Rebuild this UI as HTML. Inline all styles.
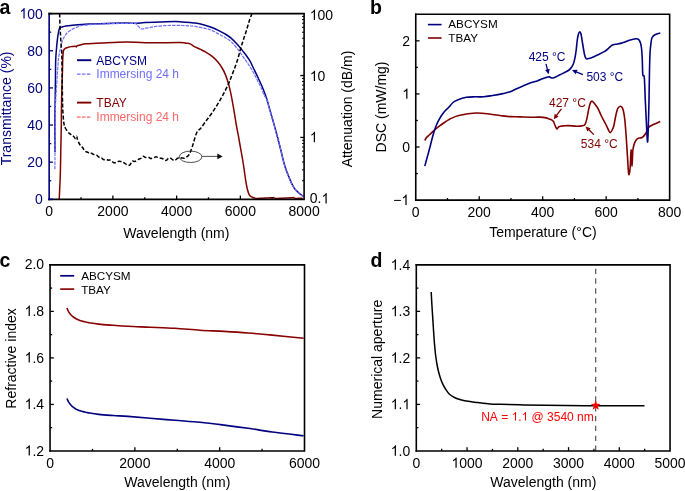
<!DOCTYPE html>
<html><head><meta charset="utf-8"><style>
html,body{margin:0;padding:0;background:#fff;}
svg{display:block;font-family:"Liberation Sans",sans-serif;will-change:transform;}
</style></head><body>
<svg width="685" height="491" viewBox="0 0 685 491">
<rect width="685" height="491" fill="#fff"/>
<g>
<path d="M59.20 199.50 C59.38 195.42 60.03 183.25 60.30 175.00 C60.57 166.75 60.63 158.33 60.80 150.00 C60.97 141.67 61.18 132.50 61.30 125.00 C61.42 117.50 61.38 111.67 61.50 105.00 C61.62 98.33 61.83 90.83 62.00 85.00 C62.17 79.17 62.38 74.17 62.50 70.00 C62.62 65.83 62.55 63.17 62.70 60.00 C62.85 56.83 63.02 52.92 63.40 51.00 C63.78 49.08 64.18 49.12 65.00 48.50 C65.82 47.88 67.13 47.62 68.30 47.30 C69.47 46.98 70.83 46.78 72.00 46.60 C73.17 46.42 74.58 46.13 75.30 46.20 C76.02 46.27 75.97 47.08 76.30 47.00 C76.63 46.92 76.68 46.05 77.30 45.70 C77.92 45.35 78.50 45.22 80.00 44.90 C81.50 44.58 82.65 44.13 86.30 43.80 C89.95 43.47 95.17 43.22 101.90 42.90 C108.63 42.58 119.40 41.92 126.70 41.90 C134.00 41.88 136.82 42.68 145.70 42.80 C154.58 42.92 173.28 42.53 180.00 42.60 C186.72 42.67 184.28 42.98 186.00 43.20 C187.72 43.42 188.97 43.38 190.30 43.90 C191.63 44.42 192.38 45.42 194.00 46.30 C195.62 47.18 197.98 48.20 200.00 49.20 C202.02 50.20 204.07 51.12 206.10 52.30 C208.13 53.48 210.17 54.62 212.20 56.30 C214.23 57.98 216.60 60.37 218.30 62.40 C220.00 64.43 221.22 66.47 222.40 68.50 C223.58 70.53 224.38 72.05 225.40 74.60 C226.42 77.15 227.65 80.92 228.50 83.80 C229.35 86.68 229.83 88.85 230.50 91.90 C231.17 94.95 231.82 98.37 232.50 102.10 C233.18 105.83 233.92 110.23 234.60 114.30 C235.28 118.37 236.00 123.08 236.60 126.50 C237.20 129.92 237.63 131.72 238.20 134.80 C238.77 137.88 239.27 140.88 240.00 145.00 C240.73 149.12 241.85 155.00 242.60 159.50 C243.35 164.00 244.00 168.58 244.50 172.00 C245.00 175.42 245.13 177.17 245.60 180.00 C246.07 182.83 246.68 186.53 247.30 189.00 C247.92 191.47 248.60 193.48 249.30 194.80 C250.00 196.12 250.72 196.42 251.50 196.90 C252.28 197.38 253.28 197.42 254.00 197.70 C254.72 197.97 255.20 198.42 255.80 198.55 C256.40 198.68 257.00 198.49 257.60 198.46 C258.20 198.43 258.80 198.40 259.40 198.37 C260.00 198.34 260.60 198.31 261.20 198.28 C261.80 198.25 262.40 198.22 263.00 198.19 C263.60 198.16 264.20 198.13 264.80 198.10 C265.40 198.07 266.00 198.04 266.60 198.01 C267.20 197.98 267.80 197.95 268.40 197.92 C269.00 197.89 269.60 197.86 270.20 197.83 C270.80 197.80 271.40 197.77 272.00 197.74 C272.60 197.71 273.20 197.52 273.80 197.65 C274.40 197.78 275.00 198.41 275.60 198.55 C276.20 198.68 276.80 198.49 277.40 198.46 C278.00 198.43 278.60 198.40 279.20 198.37 C279.80 198.34 280.40 198.31 281.00 198.28 C281.60 198.25 282.20 198.22 282.80 198.19 C283.40 198.16 284.00 198.13 284.60 198.10 C285.20 198.07 285.80 198.04 286.40 198.01 C287.00 197.98 287.60 197.95 288.20 197.92 C288.80 197.89 289.40 197.86 290.00 197.83 C290.60 197.80 291.20 197.77 291.80 197.74 C292.40 197.71 293.00 197.52 293.60 197.65 C294.20 197.78 294.80 198.41 295.40 198.55 C296.00 198.68 296.60 198.49 297.20 198.46 C297.80 198.43 298.40 198.40 299.00 198.37 C299.60 198.34 300.20 198.31 300.80 198.28 C301.40 198.25 302.30 198.20 302.60 198.19" fill="none" stroke="#800000" stroke-width="1.5" stroke-linejoin="round" stroke-linecap="butt" />
<path d="M55.00 152.00 C54.98 146.67 54.87 128.67 54.90 120.00 C54.93 111.33 55.10 107.50 55.20 100.00 C55.30 92.50 55.42 81.67 55.50 75.00 C55.58 68.33 55.53 64.42 55.70 60.00 C55.87 55.58 56.23 51.77 56.50 48.50 C56.77 45.23 56.97 43.12 57.30 40.40 C57.63 37.68 58.10 34.28 58.50 32.20 C58.90 30.12 59.15 28.75 59.70 27.90 C60.25 27.05 60.77 27.40 61.80 27.10 C62.83 26.80 64.13 26.40 65.90 26.10 C67.67 25.80 69.72 25.58 72.40 25.30 C75.08 25.02 79.07 24.62 82.00 24.40 C84.93 24.18 87.00 24.12 90.00 24.00 C93.00 23.88 94.17 23.85 100.00 23.70 C105.83 23.55 119.08 23.18 125.00 23.10 C130.92 23.02 132.17 23.28 135.50 23.20 C138.83 23.12 140.92 22.80 145.00 22.60 C149.08 22.40 155.00 22.17 160.00 22.00 C165.00 21.83 171.33 21.60 175.00 21.60 C178.67 21.60 179.50 21.83 182.00 22.00 C184.50 22.17 187.78 22.42 190.00 22.60 C192.22 22.78 192.93 22.70 195.30 23.10 C197.67 23.50 201.67 24.35 204.20 25.00 C206.73 25.65 208.07 26.07 210.50 27.00 C212.93 27.93 216.38 29.45 218.80 30.60 C221.22 31.75 222.95 32.65 225.00 33.90 C227.05 35.15 229.07 36.37 231.10 38.10 C233.13 39.83 235.17 42.05 237.20 44.30 C239.23 46.55 241.25 48.95 243.30 51.60 C245.35 54.25 247.70 57.22 249.50 60.20 C251.30 63.18 252.67 66.57 254.10 69.50 C255.53 72.43 256.75 74.92 258.10 77.80 C259.45 80.68 260.83 83.50 262.20 86.80 C263.57 90.10 265.08 93.98 266.30 97.60 C267.52 101.22 268.42 104.77 269.50 108.50 C270.58 112.23 271.72 116.17 272.80 120.00 C273.88 123.83 275.05 128.00 276.00 131.50 C276.95 135.00 277.67 137.78 278.50 141.00 C279.33 144.22 280.25 147.75 281.00 150.80 C281.75 153.85 282.18 156.22 283.00 159.30 C283.82 162.38 284.80 166.08 285.90 169.30 C287.00 172.52 288.58 176.12 289.60 178.60 C290.62 181.08 291.25 182.67 292.00 184.20 C292.75 185.73 293.35 186.70 294.10 187.80 C294.85 188.90 295.65 189.88 296.50 190.80 C297.35 191.72 298.37 192.60 299.20 193.30 C300.03 194.00 300.82 194.50 301.50 195.00 C302.18 195.50 303.00 196.08 303.30 196.30" fill="none" stroke="#000080" stroke-width="1.5" stroke-linejoin="round" stroke-linecap="butt" />
<path d="M54.90 169.30 C54.92 166.08 54.95 157.38 55.00 150.00 C55.05 142.62 55.12 132.50 55.20 125.00 C55.28 117.50 55.32 110.83 55.50 105.00 C55.68 99.17 56.00 95.00 56.30 90.00 C56.60 85.00 57.02 79.17 57.30 75.00 C57.58 70.83 57.80 67.78 58.00 65.00 C58.20 62.22 58.22 60.50 58.50 58.30 C58.78 56.10 59.28 53.83 59.70 51.80 C60.12 49.77 60.52 48.00 61.00 46.10 C61.48 44.20 62.00 42.03 62.60 40.40 C63.20 38.77 63.78 37.60 64.60 36.30 C65.42 35.00 66.48 33.62 67.50 32.60 C68.52 31.58 69.35 31.02 70.70 30.20 C72.05 29.38 74.10 28.38 75.60 27.70 C77.10 27.02 78.63 26.47 79.70 26.10 C80.77 25.73 80.28 25.75 82.00 25.50 C83.72 25.25 87.00 24.85 90.00 24.60 C93.00 24.35 94.17 24.20 100.00 24.00 C105.83 23.80 119.08 23.45 125.00 23.40 C130.92 23.35 133.33 23.27 135.50 23.70 C137.67 24.13 137.00 25.13 138.00 26.00 C139.00 26.87 140.17 28.53 141.50 28.90 C142.83 29.27 144.58 28.45 146.00 28.20 C147.42 27.95 148.35 27.70 150.00 27.40 C151.65 27.10 153.40 26.70 155.90 26.40 C158.40 26.10 161.82 25.77 165.00 25.60 C168.18 25.43 172.00 25.42 175.00 25.40 C178.00 25.38 180.57 25.42 183.00 25.50 C185.43 25.58 187.55 25.75 189.60 25.90 C191.65 26.05 192.87 26.02 195.30 26.40 C197.73 26.78 201.67 27.63 204.20 28.20 C206.73 28.77 208.07 28.82 210.50 29.80 C212.93 30.78 216.38 32.82 218.80 34.10 C221.22 35.38 222.95 36.22 225.00 37.50 C227.05 38.78 229.07 39.97 231.10 41.80 C233.13 43.63 235.17 45.95 237.20 48.50 C239.23 51.05 241.38 54.38 243.30 57.10 C245.22 59.82 247.07 62.32 248.70 64.80 C250.33 67.28 251.72 69.55 253.10 72.00 C254.48 74.45 255.68 76.92 257.00 79.50 C258.32 82.08 259.75 84.75 261.00 87.50 C262.25 90.25 263.62 94.22 264.50 96.00 C265.38 97.78 265.47 96.03 266.30 98.20 C267.13 100.37 268.42 105.30 269.50 109.00 C270.58 112.70 271.72 116.57 272.80 120.40 C273.88 124.23 275.05 128.50 276.00 132.00 C276.95 135.50 277.67 138.20 278.50 141.40 C279.33 144.60 280.25 148.15 281.00 151.20 C281.75 154.25 282.18 156.62 283.00 159.70 C283.82 162.78 284.80 166.48 285.90 169.70 C287.00 172.92 288.58 176.53 289.60 179.00 C290.62 181.47 291.25 182.98 292.00 184.50 C292.75 186.02 293.35 187.00 294.10 188.10 C294.85 189.20 295.65 190.18 296.50 191.10 C297.35 192.02 298.37 192.90 299.20 193.60 C300.03 194.30 300.82 194.82 301.50 195.30 C302.18 195.78 303.00 196.30 303.30 196.50" fill="none" stroke="#7070ff" stroke-width="1.2" stroke-linejoin="round" stroke-linecap="butt" stroke-dasharray="3.5 1" />
<path d="M59.60 13.60 C59.68 16.03 59.93 24.42 60.10 28.20 C60.27 31.98 60.43 33.60 60.60 36.30 C60.77 39.00 60.90 41.68 61.10 44.40 C61.30 47.12 61.67 50.00 61.80 52.60 C61.93 55.20 61.83 55.43 61.90 60.00 C61.97 64.57 62.10 73.33 62.20 80.00 C62.30 86.67 62.40 95.00 62.50 100.00 C62.60 105.00 62.63 106.67 62.80 110.00 C62.97 113.33 63.27 117.50 63.50 120.00 C63.73 122.50 63.90 123.67 64.20 125.00 C64.50 126.33 64.53 126.65 65.30 128.00 C66.07 129.35 67.95 132.09 68.80 133.10 C69.65 134.11 69.87 133.65 70.40 134.05 C70.93 134.45 71.44 135.09 72.00 135.50 C72.56 135.91 73.17 136.01 73.75 136.51 C74.33 137.01 75.03 138.55 75.50 138.50 C75.97 138.45 76.30 136.12 76.60 136.20 C76.90 136.28 76.85 137.75 77.30 139.00 C77.75 140.25 78.68 142.49 79.30 143.70 C79.92 144.91 80.46 145.57 81.03 146.24 C81.61 146.92 82.19 147.03 82.77 147.77 C83.34 148.51 83.92 150.04 84.50 150.70 C85.08 151.36 85.68 151.43 86.27 151.72 C86.86 152.01 87.44 152.13 88.03 152.45 C88.62 152.76 89.22 153.45 89.80 153.60 C90.38 153.75 90.96 153.22 91.53 153.35 C92.11 153.47 92.69 154.12 93.27 154.34 C93.84 154.57 94.43 154.58 95.00 154.70 C95.57 154.82 96.11 154.76 96.67 155.09 C97.22 155.41 97.78 156.22 98.33 156.67 C98.89 157.13 99.43 157.56 100.00 157.80 C100.57 158.04 101.17 157.80 101.75 158.10 C102.33 158.40 102.82 159.40 103.50 159.60 C104.18 159.80 105.07 159.23 105.85 159.33 C106.63 159.43 107.53 160.09 108.20 160.20 C108.88 160.31 109.33 159.84 109.90 160.00 C110.48 160.16 111.07 160.73 111.65 161.14 C112.23 161.56 112.82 162.25 113.40 162.50 C113.98 162.75 114.57 162.76 115.15 162.66 C115.73 162.56 116.27 162.14 116.90 161.90 C117.53 161.66 118.27 161.27 118.95 161.22 C119.63 161.17 120.37 161.48 121.00 161.60 C121.63 161.72 122.17 161.71 122.75 161.96 C123.33 162.21 123.72 162.58 124.50 163.10 C125.28 163.62 126.48 164.80 127.40 165.10 C128.32 165.40 129.22 165.55 130.00 164.90 C130.78 164.25 131.27 161.78 132.10 161.20 C132.93 160.62 134.02 161.67 135.00 161.40 C135.98 161.13 137.02 160.10 138.00 159.60 C138.98 159.10 140.03 158.95 140.90 158.40 C141.77 157.85 142.52 156.48 143.20 156.30 C143.88 156.12 144.36 157.08 145.00 157.30 C145.64 157.52 146.37 157.58 147.05 157.63 C147.73 157.68 148.47 157.46 149.10 157.60 C149.73 157.74 150.27 158.39 150.85 158.48 C151.43 158.56 152.02 158.25 152.60 158.10 C153.18 157.95 153.77 157.77 154.35 157.56 C154.93 157.34 155.42 156.76 156.10 156.80 C156.78 156.84 157.62 157.56 158.40 157.80 C159.18 158.04 159.97 158.06 160.75 158.26 C161.53 158.46 162.42 158.66 163.10 159.00 C163.78 159.34 164.27 160.07 164.85 160.27 C165.43 160.47 166.02 160.52 166.60 160.20 C167.18 159.88 167.77 158.77 168.35 158.37 C168.93 157.97 169.42 157.59 170.10 157.80 C170.78 158.01 171.67 159.17 172.45 159.60 C173.23 160.04 173.96 160.60 174.80 160.40 C175.64 160.20 176.70 158.87 177.50 158.40 C178.30 157.93 178.85 157.67 179.60 157.60 C180.35 157.53 181.18 157.90 182.00 158.00 C182.82 158.10 183.75 158.37 184.50 158.20 C185.25 158.03 185.85 157.43 186.50 157.00 C187.15 156.57 187.78 156.35 188.40 155.60 C189.02 154.85 189.72 153.52 190.20 152.50 C190.68 151.48 190.92 150.58 191.30 149.50 C191.68 148.42 192.12 147.17 192.50 146.00 C192.88 144.83 193.18 143.92 193.60 142.50 C194.02 141.08 194.47 139.17 195.00 137.50 C195.53 135.83 196.17 133.75 196.80 132.50 C197.43 131.25 198.10 130.75 198.80 130.00 C199.50 129.25 200.05 129.17 201.00 128.00 C201.95 126.83 203.32 124.62 204.50 123.00 C205.68 121.38 206.32 120.77 208.10 118.30 C209.88 115.83 212.82 111.92 215.20 108.20 C217.58 104.48 220.18 100.07 222.40 96.00 C224.62 91.93 226.90 87.30 228.50 83.80 C230.10 80.30 230.82 78.05 232.00 75.00 C233.18 71.95 234.52 68.58 235.60 65.50 C236.68 62.42 237.65 59.38 238.50 56.50 C239.35 53.62 240.00 50.62 240.70 48.20 C241.40 45.78 242.08 43.95 242.70 42.00 C243.32 40.05 243.80 38.33 244.40 36.50 C245.00 34.67 245.72 32.83 246.30 31.00 C246.88 29.17 247.33 27.42 247.90 25.50 C248.47 23.58 249.03 21.47 249.70 19.50 C250.37 17.53 251.53 14.67 251.90 13.70" fill="none" stroke="#000" stroke-width="1.5" stroke-linejoin="round" stroke-linecap="butt" stroke-dasharray="4 2" />
<ellipse cx="190.6" cy="156.8" rx="11.3" ry="5.7" fill="none" stroke="#222" stroke-width="0.8"/>
<line x1="201.90" y1="156.40" x2="218.00" y2="156.40" stroke="#222" stroke-width="0.8" />
<path d="M217.3 153.6 L222.7 156.4 L217.3 159.2 Z" fill="#111"/>
<path d="M49.15 13.60 H304.10 V199.35 H49.15" fill="none" stroke="#000" stroke-width="1.6" stroke-linejoin="miter" stroke-linecap="square"/>
<line x1="49.15" y1="13.60" x2="49.15" y2="200.15" stroke="#000080" stroke-width="1.6" />
<line x1="48.35" y1="199.35" x2="52.95" y2="199.35" stroke="#000080" stroke-width="1.6" />
<line x1="48.35" y1="13.60" x2="52.15" y2="13.60" stroke="#000" stroke-width="1.6" />
<text transform="translate(42.80 204.25) scale(1 1.035)" font-size="14.0" text-anchor="end" fill="#000080" font-weight="normal" >0</text>
<line x1="49.15" y1="180.78" x2="51.25" y2="180.78" stroke="#000080" stroke-width="1.3" />
<line x1="49.15" y1="162.20" x2="52.95" y2="162.20" stroke="#000080" stroke-width="1.3" />
<text transform="translate(42.80 167.10) scale(1 1.035)" font-size="14.0" text-anchor="end" fill="#000080" font-weight="normal" >20</text>
<line x1="49.15" y1="143.62" x2="51.25" y2="143.62" stroke="#000080" stroke-width="1.3" />
<line x1="49.15" y1="125.05" x2="52.95" y2="125.05" stroke="#000080" stroke-width="1.3" />
<text transform="translate(42.80 129.95) scale(1 1.035)" font-size="14.0" text-anchor="end" fill="#000080" font-weight="normal" >40</text>
<line x1="49.15" y1="106.47" x2="51.25" y2="106.47" stroke="#000080" stroke-width="1.3" />
<line x1="49.15" y1="87.90" x2="52.95" y2="87.90" stroke="#000080" stroke-width="1.3" />
<text transform="translate(42.80 92.80) scale(1 1.035)" font-size="14.0" text-anchor="end" fill="#000080" font-weight="normal" >60</text>
<line x1="49.15" y1="69.32" x2="51.25" y2="69.32" stroke="#000080" stroke-width="1.3" />
<line x1="49.15" y1="50.75" x2="52.95" y2="50.75" stroke="#000080" stroke-width="1.3" />
<text transform="translate(42.80 55.65) scale(1 1.035)" font-size="14.0" text-anchor="end" fill="#000080" font-weight="normal" >80</text>
<line x1="49.15" y1="32.17" x2="51.25" y2="32.17" stroke="#000080" stroke-width="1.3" />
<path d="M24.66 18.50 L23.43 18.50 L23.43 10.38 C23.13 10.67 22.74 10.97 22.26 11.26 C21.79 11.55 21.36 11.77 20.97 11.92 L20.97 10.69 C21.65 10.36 22.24 9.95 22.76 9.48 C23.27 9.01 23.63 8.55 23.84 8.09 L24.66 8.09 Z" fill="#000080"/>
<text transform="translate(42.80 18.50) scale(1 1.035)" font-size="14.0" text-anchor="end" fill="#000080" font-weight="normal"  style="font-kerning:none">&#8199;00</text>
<text transform="translate(49.15 215.90) scale(1 1.035)" font-size="14.0" text-anchor="middle" fill="#000" font-weight="normal" >0</text>
<line x1="81.02" y1="199.35" x2="81.02" y2="197.25" stroke="#000" stroke-width="1.3" />
<line x1="112.89" y1="199.35" x2="112.89" y2="195.55" stroke="#000" stroke-width="1.3" />
<text transform="translate(112.89 215.90) scale(1 1.035)" font-size="14.0" text-anchor="middle" fill="#000" font-weight="normal" >2000</text>
<line x1="144.76" y1="199.35" x2="144.76" y2="197.25" stroke="#000" stroke-width="1.3" />
<line x1="176.62" y1="199.35" x2="176.62" y2="195.55" stroke="#000" stroke-width="1.3" />
<text transform="translate(176.62 215.90) scale(1 1.035)" font-size="14.0" text-anchor="middle" fill="#000" font-weight="normal" >4000</text>
<line x1="208.49" y1="199.35" x2="208.49" y2="197.25" stroke="#000" stroke-width="1.3" />
<line x1="240.36" y1="199.35" x2="240.36" y2="195.55" stroke="#000" stroke-width="1.3" />
<text transform="translate(240.36 215.90) scale(1 1.035)" font-size="14.0" text-anchor="middle" fill="#000" font-weight="normal" >6000</text>
<line x1="272.23" y1="199.35" x2="272.23" y2="197.25" stroke="#000" stroke-width="1.3" />
<text transform="translate(304.10 215.90) scale(1 1.035)" font-size="14.0" text-anchor="middle" fill="#000" font-weight="normal" >8000</text>
<line x1="304.10" y1="180.71" x2="302.00" y2="180.71" stroke="#000" stroke-width="1.0" />
<line x1="304.10" y1="169.81" x2="302.00" y2="169.81" stroke="#000" stroke-width="1.0" />
<line x1="304.10" y1="162.07" x2="302.00" y2="162.07" stroke="#000" stroke-width="1.0" />
<line x1="304.10" y1="156.07" x2="302.00" y2="156.07" stroke="#000" stroke-width="1.0" />
<line x1="304.10" y1="151.17" x2="302.00" y2="151.17" stroke="#000" stroke-width="1.0" />
<line x1="304.10" y1="147.02" x2="302.00" y2="147.02" stroke="#000" stroke-width="1.0" />
<line x1="304.10" y1="143.43" x2="302.00" y2="143.43" stroke="#000" stroke-width="1.0" />
<line x1="304.10" y1="140.27" x2="302.00" y2="140.27" stroke="#000" stroke-width="1.0" />
<line x1="304.10" y1="137.43" x2="300.30" y2="137.43" stroke="#000" stroke-width="1.3" />
<line x1="304.10" y1="118.79" x2="302.00" y2="118.79" stroke="#000" stroke-width="1.0" />
<line x1="304.10" y1="107.89" x2="302.00" y2="107.89" stroke="#000" stroke-width="1.0" />
<line x1="304.10" y1="100.16" x2="302.00" y2="100.16" stroke="#000" stroke-width="1.0" />
<line x1="304.10" y1="94.16" x2="302.00" y2="94.16" stroke="#000" stroke-width="1.0" />
<line x1="304.10" y1="89.25" x2="302.00" y2="89.25" stroke="#000" stroke-width="1.0" />
<line x1="304.10" y1="85.11" x2="302.00" y2="85.11" stroke="#000" stroke-width="1.0" />
<line x1="304.10" y1="81.52" x2="302.00" y2="81.52" stroke="#000" stroke-width="1.0" />
<line x1="304.10" y1="78.35" x2="302.00" y2="78.35" stroke="#000" stroke-width="1.0" />
<line x1="304.10" y1="75.52" x2="300.30" y2="75.52" stroke="#000" stroke-width="1.3" />
<line x1="304.10" y1="56.88" x2="302.00" y2="56.88" stroke="#000" stroke-width="1.0" />
<line x1="304.10" y1="45.97" x2="302.00" y2="45.97" stroke="#000" stroke-width="1.0" />
<line x1="304.10" y1="38.24" x2="302.00" y2="38.24" stroke="#000" stroke-width="1.0" />
<line x1="304.10" y1="32.24" x2="302.00" y2="32.24" stroke="#000" stroke-width="1.0" />
<line x1="304.10" y1="27.34" x2="302.00" y2="27.34" stroke="#000" stroke-width="1.0" />
<line x1="304.10" y1="23.19" x2="302.00" y2="23.19" stroke="#000" stroke-width="1.0" />
<line x1="304.10" y1="19.60" x2="302.00" y2="19.60" stroke="#000" stroke-width="1.0" />
<line x1="304.10" y1="16.43" x2="302.00" y2="16.43" stroke="#000" stroke-width="1.0" />
<path d="M326.69 203.44 L325.46 203.44 L325.46 195.32 C325.17 195.61 324.78 195.91 324.30 196.20 C323.82 196.49 323.39 196.71 323.00 196.86 L323.00 195.63 C323.68 195.30 324.28 194.89 324.79 194.42 C325.30 193.95 325.67 193.49 325.88 193.03 L326.69 193.03 Z" fill="#000"/>
<text transform="translate(309.80 203.44) scale(1 1.035)" font-size="14.0" text-anchor="start" fill="#000" font-weight="normal"  style="font-kerning:none">0.&#8199;</text>
<path d="M315.02 142.19 L313.79 142.19 L313.79 134.07 C313.49 134.36 313.10 134.66 312.62 134.95 C312.14 135.24 311.71 135.46 311.32 135.61 L311.32 134.38 C312.01 134.05 312.60 133.64 313.12 133.17 C313.63 132.70 313.99 132.24 314.20 131.78 L315.02 131.78 Z" fill="#000"/>
<text transform="translate(309.80 142.19) scale(1 1.035)" font-size="14.0" text-anchor="start" fill="#000" font-weight="normal"  style="font-kerning:none">&#8199;</text>
<path d="M315.02 81.04 L313.79 81.04 L313.79 72.92 C313.49 73.21 313.10 73.51 312.62 73.80 C312.14 74.09 311.71 74.31 311.32 74.46 L311.32 73.23 C312.01 72.90 312.60 72.49 313.12 72.02 C313.63 71.55 313.99 71.09 314.20 70.63 L315.02 70.63 Z" fill="#000"/>
<text transform="translate(309.80 81.04) scale(1 1.035)" font-size="14.0" text-anchor="start" fill="#000" font-weight="normal"  style="font-kerning:none">&#8199;0</text>
<path d="M315.02 19.99 L313.79 19.99 L313.79 11.87 C313.49 12.16 313.10 12.46 312.62 12.75 C312.14 13.04 311.71 13.26 311.32 13.41 L311.32 12.18 C312.01 11.85 312.60 11.44 313.12 10.97 C313.63 10.50 313.99 10.04 314.20 9.58 L315.02 9.58 Z" fill="#000"/>
<text transform="translate(309.80 19.99) scale(1 1.035)" font-size="14.0" text-anchor="start" fill="#000" font-weight="normal"  style="font-kerning:none">&#8199;00</text>
<text transform="translate(11.30 108.40) rotate(-90)" font-size="14" text-anchor="middle" fill="#000080">Transmittance (%)</text>
<text transform="translate(351.80 109.00) rotate(-90)" font-size="14" text-anchor="middle" fill="#000">Attenuation (dB/m)</text>
<text x="176.40" y="238.30" font-size="14" text-anchor="middle" fill="#000" font-weight="normal" >Wavelength (nm)</text>
<line x1="77.00" y1="60.20" x2="91.30" y2="60.20" stroke="#000080" stroke-width="1.9" />
<text x="96.30" y="64.50" font-size="12" text-anchor="start" fill="#000080" font-weight="normal" >ABCYSM</text>
<line x1="77.00" y1="74.10" x2="91.30" y2="74.10" stroke="#7070ff" stroke-width="1.2" stroke-dasharray="3.6 1.3"/>
<text x="96.30" y="78.30" font-size="12" text-anchor="start" fill="#7070ff" font-weight="normal" >Immersing 24 h</text>
<line x1="77.00" y1="102.60" x2="91.30" y2="102.60" stroke="#800000" stroke-width="1.9" />
<text x="96.30" y="106.80" font-size="12" text-anchor="start" fill="#800000" font-weight="normal" >TBAY</text>
<line x1="77.00" y1="117.10" x2="91.30" y2="117.10" stroke="#ff6868" stroke-width="1.2" stroke-dasharray="3.6 1.3"/>
<text x="96.30" y="120.90" font-size="12" text-anchor="start" fill="#ff6868" font-weight="normal" >Immersing 24 h</text>
</g>
<g>
<path d="M424.80 140.50 C425.08 140.02 425.67 138.60 426.50 137.60 C427.33 136.60 428.45 135.80 429.80 134.50 C431.15 133.20 433.07 131.17 434.60 129.80 C436.13 128.43 437.37 127.52 439.00 126.30 C440.63 125.08 442.57 123.72 444.40 122.50 C446.23 121.28 447.58 120.17 450.00 119.00 C452.42 117.83 454.57 116.50 458.90 115.50 C463.23 114.50 470.70 113.22 476.00 113.00 C481.30 112.78 486.22 113.72 490.70 114.20 C495.18 114.68 499.68 115.50 502.90 115.90 C506.12 116.30 507.15 116.43 510.00 116.60 C512.85 116.77 515.93 116.78 520.00 116.90 C524.07 117.02 531.07 117.27 534.40 117.30 C537.73 117.33 538.05 117.00 540.00 117.10 C541.95 117.20 544.58 117.58 546.10 117.90 C547.62 118.22 548.18 118.67 549.10 119.00 C550.02 119.33 550.87 119.48 551.60 119.90 C552.33 120.32 553.08 120.98 553.50 121.50 C553.92 122.02 553.70 122.03 554.10 123.00 C554.50 123.97 555.40 126.32 555.90 127.30 C556.40 128.28 556.60 129.00 557.10 128.90 C557.60 128.80 557.68 127.22 558.90 126.70 C560.12 126.18 562.77 125.98 564.40 125.80 C566.03 125.62 566.65 125.53 568.70 125.60 C570.75 125.67 574.35 126.18 576.70 126.20 C579.05 126.22 581.38 126.03 582.80 125.70 C584.22 125.37 584.50 125.47 585.20 124.20 C585.90 122.93 586.38 120.75 587.00 118.10 C587.62 115.45 588.28 110.95 588.90 108.30 C589.52 105.65 590.13 103.38 590.70 102.20 C591.27 101.02 591.68 101.00 592.30 101.20 C592.92 101.40 593.45 102.18 594.40 103.40 C595.35 104.62 596.83 106.40 598.00 108.50 C599.17 110.60 600.17 113.50 601.40 116.00 C602.63 118.50 604.30 121.33 605.40 123.50 C606.50 125.67 607.18 127.48 608.00 129.00 C608.82 130.52 609.52 132.62 610.30 132.60 C611.08 132.58 612.08 130.17 612.70 128.90 C613.32 127.63 613.53 126.98 614.00 125.00 C614.47 123.02 614.98 119.47 615.50 117.00 C616.02 114.53 616.60 111.78 617.10 110.20 C617.60 108.62 617.93 108.17 618.50 107.50 C619.07 106.83 619.78 106.00 620.50 106.20 C621.22 106.40 622.10 106.60 622.80 108.70 C623.50 110.80 624.15 114.37 624.70 118.80 C625.25 123.23 625.65 129.20 626.10 135.30 C626.55 141.40 626.97 148.95 627.40 155.40 C627.83 161.85 628.25 171.85 628.70 174.00 C629.15 176.15 629.70 172.30 630.10 168.30 C630.50 164.30 630.78 150.32 631.10 150.00 C631.42 149.68 631.70 166.40 632.00 166.40 C632.30 166.40 632.45 153.97 632.90 150.00 C633.35 146.03 633.93 144.50 634.70 142.60 C635.47 140.70 636.27 139.45 637.50 138.60 C638.73 137.75 640.73 138.35 642.10 137.50 C643.47 136.65 644.63 135.17 645.70 133.50 C646.77 131.83 647.12 129.03 648.50 127.50 C649.88 125.97 652.05 125.32 654.00 124.30 C655.95 123.28 659.17 121.88 660.20 121.40" fill="none" stroke="#800000" stroke-width="1.6" stroke-linejoin="round" stroke-linecap="butt" />
<path d="M424.80 166.10 C425.17 164.75 426.20 160.93 427.00 158.00 C427.80 155.07 428.77 151.67 429.60 148.50 C430.43 145.33 431.17 142.07 432.00 139.00 C432.83 135.93 433.77 132.63 434.60 130.10 C435.43 127.57 436.22 125.60 437.00 123.80 C437.78 122.00 438.47 120.80 439.30 119.30 C440.13 117.80 440.95 116.30 442.00 114.80 C443.05 113.30 444.47 111.55 445.60 110.30 C446.73 109.05 447.57 108.60 448.80 107.30 C450.03 106.00 451.55 103.73 453.00 102.50 C454.45 101.27 455.28 100.77 457.50 99.90 C459.72 99.03 463.38 97.82 466.30 97.30 C469.22 96.78 472.08 96.88 475.00 96.80 C477.92 96.72 480.88 97.02 483.80 96.80 C486.72 96.58 489.32 96.03 492.50 95.50 C495.68 94.97 500.10 94.17 502.90 93.60 C505.70 93.03 507.12 92.87 509.30 92.10 C511.48 91.33 513.63 90.07 516.00 89.00 C518.37 87.93 521.17 86.68 523.50 85.70 C525.83 84.72 527.62 83.93 530.00 83.10 C532.38 82.27 535.72 81.42 537.80 80.70 C539.88 79.98 540.85 79.40 542.50 78.80 C544.15 78.20 546.53 77.42 547.70 77.10 C548.87 76.78 548.87 76.77 549.50 76.90 C550.13 77.03 550.77 77.77 551.50 77.90 C552.23 78.03 552.48 78.22 553.90 77.70 C555.32 77.18 557.82 75.87 560.00 74.80 C562.18 73.73 565.25 72.33 567.00 71.30 C568.75 70.27 569.47 69.77 570.50 68.60 C571.53 67.43 572.47 66.05 573.20 64.30 C573.93 62.55 574.40 60.48 574.90 58.10 C575.40 55.72 575.82 52.93 576.20 50.00 C576.58 47.07 576.82 43.17 577.20 40.50 C577.58 37.83 578.07 35.45 578.50 34.00 C578.93 32.55 579.38 31.80 579.80 31.80 C580.22 31.80 580.60 32.43 581.00 34.00 C581.40 35.57 581.78 38.70 582.20 41.20 C582.62 43.70 583.10 46.70 583.50 49.00 C583.90 51.30 584.15 53.37 584.60 55.00 C585.05 56.63 585.63 58.20 586.20 58.80 C586.77 59.40 587.12 58.78 588.00 58.60 C588.88 58.42 589.82 58.35 591.50 57.70 C593.18 57.05 595.90 55.75 598.10 54.70 C600.30 53.65 602.93 52.50 604.70 51.40 C606.47 50.30 607.48 49.13 608.70 48.10 C609.92 47.07 610.90 45.83 612.00 45.20 C613.10 44.57 613.87 44.60 615.30 44.30 C616.73 44.00 618.98 43.80 620.60 43.40 C622.22 43.00 623.55 42.43 625.00 41.90 C626.45 41.37 627.50 40.73 629.30 40.20 C631.10 39.67 634.27 38.83 635.80 38.70 C637.33 38.57 637.72 38.68 638.50 39.40 C639.28 40.12 639.98 41.40 640.50 43.00 C641.02 44.60 641.30 46.17 641.60 49.00 C641.90 51.83 642.10 55.75 642.30 60.00 C642.50 64.25 642.47 71.58 642.80 74.50 C643.13 77.42 643.88 73.25 644.30 77.50 C644.72 81.75 644.93 92.08 645.30 100.00 C645.67 107.92 646.13 118.00 646.50 125.00 C646.87 132.00 647.20 141.50 647.50 142.00 C647.80 142.50 648.05 135.00 648.30 128.00 C648.55 121.00 648.80 109.67 649.00 100.00 C649.20 90.33 649.32 78.00 649.50 70.00 C649.68 62.00 649.85 56.50 650.10 52.00 C650.35 47.50 650.67 45.42 651.00 43.00 C651.33 40.58 651.37 38.92 652.10 37.50 C652.83 36.08 654.03 35.25 655.40 34.50 C656.77 33.75 659.48 33.25 660.30 33.00" fill="none" stroke="#000080" stroke-width="1.6" stroke-linejoin="round" stroke-linecap="butt" />
<path d="M415.75 14.30 H669.65 V200.10 H415.75" fill="none" stroke="#000" stroke-width="1.6" stroke-linejoin="miter" stroke-linecap="square"/>
<line x1="415.75" y1="13.50" x2="415.75" y2="200.90" stroke="#000" stroke-width="1.6" />
<path d="M406.63 205.00 L405.40 205.00 L405.40 196.88 C405.11 197.17 404.72 197.47 404.24 197.76 C403.76 198.05 403.33 198.27 402.94 198.42 L402.94 197.19 C403.62 196.86 404.22 196.45 404.73 195.98 C405.24 195.51 405.60 195.05 405.82 194.59 L406.63 194.59 Z" fill="#000"/>
<text transform="translate(409.20 205.00) scale(1 1.035)" font-size="14.0" text-anchor="end" fill="#000" font-weight="normal"  style="font-kerning:none">&#8722;&#8199;</text>
<line x1="415.75" y1="173.56" x2="417.85" y2="173.56" stroke="#000" stroke-width="1.3" />
<line x1="415.75" y1="147.01" x2="419.55" y2="147.01" stroke="#000" stroke-width="1.3" />
<text transform="translate(410.00 151.91) scale(1 1.035)" font-size="14.0" text-anchor="end" fill="#000" font-weight="normal" >0</text>
<line x1="415.75" y1="120.47" x2="417.85" y2="120.47" stroke="#000" stroke-width="1.3" />
<line x1="415.75" y1="93.93" x2="419.55" y2="93.93" stroke="#000" stroke-width="1.3" />
<path d="M407.43 98.83 L406.20 98.83 L406.20 90.71 C405.91 91.00 405.52 91.30 405.04 91.59 C404.56 91.88 404.13 92.10 403.74 92.25 L403.74 91.02 C404.42 90.69 405.02 90.28 405.53 89.81 C406.04 89.33 406.40 88.87 406.62 88.41 L407.43 88.41 Z" fill="#000"/>
<text transform="translate(410.00 98.83) scale(1 1.035)" font-size="14.0" text-anchor="end" fill="#000" font-weight="normal"  style="font-kerning:none">&#8199;</text>
<line x1="415.75" y1="67.39" x2="417.85" y2="67.39" stroke="#000" stroke-width="1.3" />
<line x1="415.75" y1="40.84" x2="419.55" y2="40.84" stroke="#000" stroke-width="1.3" />
<text transform="translate(410.00 45.74) scale(1 1.035)" font-size="14.0" text-anchor="end" fill="#000" font-weight="normal" >2</text>
<text transform="translate(415.75 216.50) scale(1 1.035)" font-size="14.0" text-anchor="middle" fill="#000" font-weight="normal" >0</text>
<line x1="447.49" y1="200.10" x2="447.49" y2="198.00" stroke="#000" stroke-width="1.3" />
<line x1="479.23" y1="200.10" x2="479.23" y2="196.30" stroke="#000" stroke-width="1.3" />
<text transform="translate(479.23 216.50) scale(1 1.035)" font-size="14.0" text-anchor="middle" fill="#000" font-weight="normal" >200</text>
<line x1="510.96" y1="200.10" x2="510.96" y2="198.00" stroke="#000" stroke-width="1.3" />
<line x1="542.70" y1="200.10" x2="542.70" y2="196.30" stroke="#000" stroke-width="1.3" />
<text transform="translate(542.70 216.50) scale(1 1.035)" font-size="14.0" text-anchor="middle" fill="#000" font-weight="normal" >400</text>
<line x1="574.44" y1="200.10" x2="574.44" y2="198.00" stroke="#000" stroke-width="1.3" />
<line x1="606.17" y1="200.10" x2="606.17" y2="196.30" stroke="#000" stroke-width="1.3" />
<text transform="translate(606.17 216.50) scale(1 1.035)" font-size="14.0" text-anchor="middle" fill="#000" font-weight="normal" >600</text>
<line x1="637.91" y1="200.10" x2="637.91" y2="198.00" stroke="#000" stroke-width="1.3" />
<text transform="translate(669.65 216.50) scale(1 1.035)" font-size="14.0" text-anchor="middle" fill="#000" font-weight="normal" >800</text>
<text transform="translate(385.80 106.95) rotate(-90)" font-size="14" text-anchor="middle" fill="#000">DSC (mW/mg)</text>
<text x="542.90" y="236.60" font-size="14" text-anchor="middle" fill="#000" font-weight="normal" >Temperature (&#176;C)</text>
<line x1="427.90" y1="24.60" x2="441.60" y2="24.60" stroke="#000080" stroke-width="1.6" />
<text x="448.30" y="28.20" font-size="11.7" text-anchor="start" fill="#000" font-weight="normal" >ABCYSM</text>
<line x1="427.90" y1="38.00" x2="441.60" y2="38.00" stroke="#800000" stroke-width="1.6" />
<text x="448.30" y="42.20" font-size="11.7" text-anchor="start" fill="#000" font-weight="normal" >TBAY</text>
<text x="528.70" y="61.00" font-size="12" text-anchor="start" fill="#000080" font-weight="normal" >425 &#176;C</text>
<text x="586.40" y="80.50" font-size="12" text-anchor="start" fill="#000080" font-weight="normal" >503 &#176;C</text>
<text x="549.00" y="107.10" font-size="12" text-anchor="start" fill="#800000" font-weight="normal" >427 &#176;C</text>
<text x="580.80" y="147.50" font-size="12" text-anchor="start" fill="#800000" font-weight="normal" >534 &#176;C</text>
<line x1="546.00" y1="63.80" x2="547.52" y2="69.93" stroke="#000080" stroke-width="1.3" />
<path d="M548.60 74.30 L545.07 70.02 L549.73 68.87 Z" fill="#000080"/>
<line x1="582.90" y1="74.60" x2="576.16" y2="71.82" stroke="#000080" stroke-width="1.3" />
<path d="M572.00 70.10 L577.54 69.79 L575.71 74.23 Z" fill="#000080"/>
<line x1="561.40" y1="108.90" x2="556.38" y2="115.68" stroke="#800000" stroke-width="1.3" />
<path d="M553.70 119.30 L554.75 113.85 L558.60 116.71 Z" fill="#800000"/>
<line x1="593.80" y1="134.60" x2="588.70" y2="129.56" stroke="#800000" stroke-width="1.3" />
<path d="M585.50 126.40 L590.74 128.21 L587.37 131.62 Z" fill="#800000"/>
</g>
<g>
<path d="M67.00 308.00 C67.20 308.50 67.77 310.15 68.20 311.00 C68.63 311.85 69.05 312.35 69.60 313.10 C70.15 313.85 70.77 314.77 71.50 315.50 C72.23 316.23 73.17 316.92 74.00 317.50 C74.83 318.08 75.53 318.52 76.50 319.00 C77.47 319.48 78.55 319.97 79.80 320.40 C81.05 320.83 82.53 321.23 84.00 321.60 C85.47 321.97 86.13 322.18 88.60 322.60 C91.07 323.02 94.67 323.65 98.80 324.10 C102.93 324.55 108.53 324.93 113.40 325.30 C118.27 325.67 121.90 325.98 128.00 326.30 C134.10 326.62 142.17 326.87 150.00 327.20 C157.83 327.53 166.67 327.80 175.00 328.30 C183.33 328.80 191.82 329.68 200.00 330.20 C208.18 330.72 216.07 330.93 224.10 331.40 C232.13 331.87 240.17 332.38 248.20 333.00 C256.23 333.62 263.07 334.22 272.30 335.10 C281.53 335.98 298.38 337.77 303.60 338.30" fill="none" stroke="#880000" stroke-width="1.6" stroke-linejoin="round" stroke-linecap="butt" />
<path d="M67.00 398.50 C67.20 398.97 67.77 400.48 68.20 401.30 C68.63 402.12 69.05 402.65 69.60 403.40 C70.15 404.15 70.77 405.07 71.50 405.80 C72.23 406.53 73.17 407.20 74.00 407.80 C74.83 408.40 75.53 408.92 76.50 409.40 C77.47 409.88 78.55 410.28 79.80 410.70 C81.05 411.12 82.53 411.53 84.00 411.90 C85.47 412.27 86.13 412.48 88.60 412.90 C91.07 413.32 94.67 413.97 98.80 414.40 C102.93 414.83 108.53 415.17 113.40 415.50 C118.27 415.83 121.90 415.95 128.00 416.40 C134.10 416.85 142.17 417.55 150.00 418.20 C157.83 418.85 166.67 419.62 175.00 420.30 C183.33 420.98 191.82 421.50 200.00 422.30 C208.18 423.10 216.07 424.10 224.10 425.10 C232.13 426.10 240.17 427.15 248.20 428.30 C256.23 429.45 263.07 430.75 272.30 432.00 C281.53 433.25 298.38 435.17 303.60 435.80" fill="none" stroke="#000080" stroke-width="1.6" stroke-linejoin="round" stroke-linecap="butt" />
<path d="M50.05 264.85 H304.50 V450.95 H50.05" fill="none" stroke="#000" stroke-width="1.6" stroke-linejoin="miter" stroke-linecap="square"/>
<line x1="50.05" y1="264.05" x2="50.05" y2="451.75" stroke="#000" stroke-width="1.6" />
<path d="M29.85 455.55 L28.62 455.55 L28.62 447.43 C28.33 447.72 27.94 448.02 27.46 448.31 C26.98 448.60 26.55 448.82 26.16 448.97 L26.16 447.74 C26.85 447.41 27.44 447.00 27.95 446.53 C28.47 446.06 28.83 445.60 29.04 445.14 L29.85 445.14 Z" fill="#000"/>
<text transform="translate(44.10 455.55) scale(1 1.035)" font-size="14.0" text-anchor="end" fill="#000" font-weight="normal"  style="font-kerning:none">&#8199;.2</text>
<line x1="50.05" y1="427.69" x2="52.15" y2="427.69" stroke="#000" stroke-width="1.3" />
<line x1="50.05" y1="404.43" x2="53.85" y2="404.43" stroke="#000" stroke-width="1.3" />
<path d="M29.85 409.03 L28.62 409.03 L28.62 400.91 C28.33 401.20 27.94 401.50 27.46 401.79 C26.98 402.08 26.55 402.30 26.16 402.45 L26.16 401.21 C26.85 400.88 27.44 400.48 27.95 400.00 C28.47 399.53 28.83 399.07 29.04 398.61 L29.85 398.61 Z" fill="#000"/>
<text transform="translate(44.10 409.03) scale(1 1.035)" font-size="14.0" text-anchor="end" fill="#000" font-weight="normal"  style="font-kerning:none">&#8199;.4</text>
<line x1="50.05" y1="381.16" x2="52.15" y2="381.16" stroke="#000" stroke-width="1.3" />
<line x1="50.05" y1="357.90" x2="53.85" y2="357.90" stroke="#000" stroke-width="1.3" />
<path d="M29.85 362.50 L28.62 362.50 L28.62 354.38 C28.33 354.67 27.94 354.97 27.46 355.26 C26.98 355.55 26.55 355.77 26.16 355.92 L26.16 354.69 C26.85 354.36 27.44 353.95 27.95 353.48 C28.47 353.01 28.83 352.55 29.04 352.09 L29.85 352.09 Z" fill="#000"/>
<text transform="translate(44.10 362.50) scale(1 1.035)" font-size="14.0" text-anchor="end" fill="#000" font-weight="normal"  style="font-kerning:none">&#8199;.6</text>
<line x1="50.05" y1="334.64" x2="52.15" y2="334.64" stroke="#000" stroke-width="1.3" />
<line x1="50.05" y1="311.38" x2="53.85" y2="311.38" stroke="#000" stroke-width="1.3" />
<path d="M29.85 315.98 L28.62 315.98 L28.62 307.86 C28.33 308.15 27.94 308.45 27.46 308.74 C26.98 309.03 26.55 309.25 26.16 309.40 L26.16 308.16 C26.85 307.83 27.44 307.43 27.95 306.95 C28.47 306.48 28.83 306.02 29.04 305.56 L29.85 305.56 Z" fill="#000"/>
<text transform="translate(44.10 315.98) scale(1 1.035)" font-size="14.0" text-anchor="end" fill="#000" font-weight="normal"  style="font-kerning:none">&#8199;.8</text>
<line x1="50.05" y1="288.11" x2="52.15" y2="288.11" stroke="#000" stroke-width="1.3" />
<text transform="translate(44.10 269.45) scale(1 1.035)" font-size="14.0" text-anchor="end" fill="#000" font-weight="normal" >2.0</text>
<text transform="translate(50.05 467.70) scale(1 1.035)" font-size="14.0" text-anchor="middle" fill="#000" font-weight="normal" >0</text>
<line x1="92.46" y1="450.95" x2="92.46" y2="448.85" stroke="#000" stroke-width="1.3" />
<line x1="134.87" y1="450.95" x2="134.87" y2="447.15" stroke="#000" stroke-width="1.3" />
<text transform="translate(134.87 467.70) scale(1 1.035)" font-size="14.0" text-anchor="middle" fill="#000" font-weight="normal" >2000</text>
<line x1="177.27" y1="450.95" x2="177.27" y2="448.85" stroke="#000" stroke-width="1.3" />
<line x1="219.68" y1="450.95" x2="219.68" y2="447.15" stroke="#000" stroke-width="1.3" />
<text transform="translate(219.68 467.70) scale(1 1.035)" font-size="14.0" text-anchor="middle" fill="#000" font-weight="normal" >4000</text>
<line x1="262.09" y1="450.95" x2="262.09" y2="448.85" stroke="#000" stroke-width="1.3" />
<text transform="translate(304.50 467.70) scale(1 1.035)" font-size="14.0" text-anchor="middle" fill="#000" font-weight="normal" >6000</text>
<text transform="translate(15.80 358.45) rotate(-90)" font-size="14" text-anchor="middle" fill="#000">Refractive index</text>
<text x="177.30" y="486.80" font-size="14" text-anchor="middle" fill="#000" font-weight="normal" >Wavelength (nm)</text>
<line x1="60.20" y1="275.80" x2="74.20" y2="275.80" stroke="#000080" stroke-width="1.7" />
<text x="81.20" y="280.10" font-size="11.7" text-anchor="start" fill="#000" font-weight="normal" >ABCYSM</text>
<line x1="60.20" y1="289.10" x2="74.20" y2="289.10" stroke="#8b0a0a" stroke-width="1.7" />
<text x="81.20" y="294.10" font-size="11.7" text-anchor="start" fill="#000" font-weight="normal" >TBAY</text>
</g>
<g>
<line x1="595.70" y1="268.70" x2="595.70" y2="450.95" stroke="#444" stroke-width="1.1" stroke-dasharray="5.3 4.52"/>
<path d="M431.20 292.00 C431.32 294.17 431.65 300.82 431.90 305.00 C432.15 309.18 432.43 312.93 432.70 317.10 C432.97 321.27 433.22 325.73 433.50 330.00 C433.78 334.27 434.05 338.53 434.40 342.70 C434.75 346.87 435.13 351.20 435.60 355.00 C436.07 358.80 436.58 362.25 437.20 365.50 C437.82 368.75 438.48 371.65 439.30 374.50 C440.12 377.35 441.07 380.18 442.10 382.60 C443.13 385.02 444.32 387.10 445.50 389.00 C446.68 390.90 447.70 392.58 449.20 394.00 C450.70 395.42 452.60 396.55 454.50 397.50 C456.40 398.45 458.02 399.02 460.60 399.70 C463.18 400.38 467.15 401.12 470.00 401.60 C472.85 402.08 474.37 402.22 477.70 402.60 C481.03 402.98 486.20 403.62 490.00 403.90 C493.80 404.18 495.50 404.15 500.50 404.30 C505.50 404.45 512.43 404.63 520.00 404.80 C527.57 404.97 533.98 405.13 545.90 405.30 C557.82 405.47 575.07 405.72 591.50 405.80 C607.93 405.88 635.67 405.80 644.50 405.80" fill="none" stroke="#000" stroke-width="1.5" stroke-linejoin="round" stroke-linecap="butt" />
<path d="M416.30 264.85 H670.05 V450.95 H416.30" fill="none" stroke="#000" stroke-width="1.6" stroke-linejoin="miter" stroke-linecap="square"/>
<line x1="416.30" y1="264.05" x2="416.30" y2="451.75" stroke="#000" stroke-width="1.6" />
<path d="M395.95 455.75 L394.72 455.75 L394.72 447.63 C394.43 447.92 394.04 448.22 393.56 448.51 C393.08 448.80 392.65 449.02 392.26 449.17 L392.26 447.94 C392.95 447.61 393.54 447.20 394.05 446.73 C394.57 446.26 394.93 445.80 395.14 445.34 L395.95 445.34 Z" fill="#000"/>
<text transform="translate(410.20 455.75) scale(1 1.035)" font-size="14.0" text-anchor="end" fill="#000" font-weight="normal"  style="font-kerning:none">&#8199;.0</text>
<line x1="416.30" y1="427.69" x2="418.40" y2="427.69" stroke="#000" stroke-width="1.3" />
<line x1="416.30" y1="404.42" x2="420.10" y2="404.42" stroke="#000" stroke-width="1.3" />
<path d="M395.95 409.22 L394.72 409.22 L394.72 401.11 C394.43 401.40 394.04 401.70 393.56 401.99 C393.08 402.28 392.65 402.50 392.26 402.65 L392.26 401.41 C392.95 401.08 393.54 400.68 394.05 400.20 C394.57 399.73 394.93 399.27 395.14 398.81 L395.95 398.81 Z" fill="#000"/>
<path d="M407.63 409.22 L406.40 409.22 L406.40 401.11 C406.11 401.40 405.72 401.70 405.24 401.99 C404.76 402.28 404.33 402.50 403.94 402.65 L403.94 401.41 C404.62 401.08 405.22 400.68 405.73 400.20 C406.24 399.73 406.60 399.27 406.82 398.81 L407.63 398.81 Z" fill="#000"/>
<text transform="translate(410.20 409.22) scale(1 1.035)" font-size="14.0" text-anchor="end" fill="#000" font-weight="normal"  style="font-kerning:none">&#8199;.&#8199;</text>
<line x1="416.30" y1="381.16" x2="418.40" y2="381.16" stroke="#000" stroke-width="1.3" />
<line x1="416.30" y1="357.90" x2="420.10" y2="357.90" stroke="#000" stroke-width="1.3" />
<path d="M395.95 362.70 L394.72 362.70 L394.72 354.58 C394.43 354.87 394.04 355.17 393.56 355.46 C393.08 355.75 392.65 355.97 392.26 356.12 L392.26 354.89 C392.95 354.56 393.54 354.15 394.05 353.68 C394.57 353.21 394.93 352.75 395.14 352.29 L395.95 352.29 Z" fill="#000"/>
<text transform="translate(410.20 362.70) scale(1 1.035)" font-size="14.0" text-anchor="end" fill="#000" font-weight="normal"  style="font-kerning:none">&#8199;.2</text>
<line x1="416.30" y1="334.64" x2="418.40" y2="334.64" stroke="#000" stroke-width="1.3" />
<line x1="416.30" y1="311.38" x2="420.10" y2="311.38" stroke="#000" stroke-width="1.3" />
<path d="M395.95 316.18 L394.72 316.18 L394.72 308.06 C394.43 308.35 394.04 308.65 393.56 308.94 C393.08 309.23 392.65 309.45 392.26 309.60 L392.26 308.36 C392.95 308.03 393.54 307.63 394.05 307.15 C394.57 306.68 394.93 306.22 395.14 305.76 L395.95 305.76 Z" fill="#000"/>
<text transform="translate(410.20 316.18) scale(1 1.035)" font-size="14.0" text-anchor="end" fill="#000" font-weight="normal"  style="font-kerning:none">&#8199;.3</text>
<line x1="416.30" y1="288.11" x2="418.40" y2="288.11" stroke="#000" stroke-width="1.3" />
<path d="M395.95 269.65 L394.72 269.65 L394.72 261.53 C394.43 261.82 394.04 262.12 393.56 262.41 C393.08 262.70 392.65 262.92 392.26 263.07 L392.26 261.84 C392.95 261.51 393.54 261.10 394.05 260.63 C394.57 260.16 394.93 259.70 395.14 259.24 L395.95 259.24 Z" fill="#000"/>
<text transform="translate(410.20 269.65) scale(1 1.035)" font-size="14.0" text-anchor="end" fill="#000" font-weight="normal"  style="font-kerning:none">&#8199;.4</text>
<text transform="translate(416.30 467.80) scale(1 1.035)" font-size="14.0" text-anchor="middle" fill="#000" font-weight="normal" >0</text>
<line x1="441.68" y1="450.95" x2="441.68" y2="448.85" stroke="#000" stroke-width="1.3" />
<line x1="467.05" y1="450.95" x2="467.05" y2="447.15" stroke="#000" stroke-width="1.3" />
<path d="M456.69 467.80 L455.46 467.80 L455.46 459.68 C455.17 459.97 454.78 460.27 454.30 460.56 C453.82 460.85 453.39 461.07 453.00 461.22 L453.00 459.99 C453.69 459.66 454.28 459.25 454.79 458.78 C455.31 458.31 455.67 457.85 455.88 457.39 L456.69 457.39 Z" fill="#000"/>
<text transform="translate(467.05 467.80) scale(1 1.035)" font-size="14.0" text-anchor="middle" fill="#000" font-weight="normal"  style="font-kerning:none">&#8199;000</text>
<line x1="492.43" y1="450.95" x2="492.43" y2="448.85" stroke="#000" stroke-width="1.3" />
<line x1="517.80" y1="450.95" x2="517.80" y2="447.15" stroke="#000" stroke-width="1.3" />
<text transform="translate(517.80 467.80) scale(1 1.035)" font-size="14.0" text-anchor="middle" fill="#000" font-weight="normal" >2000</text>
<line x1="543.17" y1="450.95" x2="543.17" y2="448.85" stroke="#000" stroke-width="1.3" />
<line x1="568.55" y1="450.95" x2="568.55" y2="447.15" stroke="#000" stroke-width="1.3" />
<text transform="translate(568.55 467.80) scale(1 1.035)" font-size="14.0" text-anchor="middle" fill="#000" font-weight="normal" >3000</text>
<line x1="593.92" y1="450.95" x2="593.92" y2="448.85" stroke="#000" stroke-width="1.3" />
<line x1="619.30" y1="450.95" x2="619.30" y2="447.15" stroke="#000" stroke-width="1.3" />
<text transform="translate(619.30 467.80) scale(1 1.035)" font-size="14.0" text-anchor="middle" fill="#000" font-weight="normal" >4000</text>
<line x1="644.67" y1="450.95" x2="644.67" y2="448.85" stroke="#000" stroke-width="1.3" />
<text transform="translate(670.05 467.80) scale(1 1.035)" font-size="14.0" text-anchor="middle" fill="#000" font-weight="normal" >5000</text>
<text transform="translate(382.00 359.35) rotate(-90)" font-size="14" text-anchor="middle" fill="#000">Numerical aperture</text>
<text x="543.30" y="487.00" font-size="14" text-anchor="middle" fill="#000" font-weight="normal" >Wavelength (nm)</text>
<polygon points="595.7,400.3 597.0,403.7 600.6,403.9 597.8,406.2 598.8,409.7 595.7,407.8 592.6,409.7 593.6,406.2 590.8,403.9 594.4,403.7" fill="#ff0000"/>
<path d="M516.02 420.60 L514.96 420.60 L514.96 413.88 C514.71 414.12 514.38 414.37 513.97 414.61 C513.56 414.85 513.19 415.03 512.85 415.15 L512.85 414.13 C513.44 413.86 513.95 413.52 514.39 413.13 C514.83 412.74 515.14 412.36 515.32 411.98 L516.02 411.98 Z" fill="#ff0000"/>
<path d="M526.02 420.60 L524.97 420.60 L524.97 413.88 C524.72 414.12 524.38 414.37 523.97 414.61 C523.56 414.85 523.19 415.03 522.86 415.15 L522.86 414.13 C523.45 413.86 523.96 413.52 524.40 413.13 C524.83 412.74 525.15 412.36 525.33 411.98 L526.02 411.98 Z" fill="#ff0000"/>
<text x="481.20" y="420.60" font-size="12" text-anchor="start" fill="#ff0000" font-weight="normal"  style="font-kerning:none">NA = &#8199;.&#8199; @ 3540 nm</text>
</g>
<text transform="translate(-0.40 14.40) scale(1 1.070)" font-size="19.5" text-anchor="start" fill="#000" font-weight="bold" >a</text>
<text transform="translate(369.90 14.40) scale(1 1.040)" font-size="19.5" text-anchor="start" fill="#000" font-weight="bold" >b</text>
<text transform="translate(-0.40 267.00) scale(1 1.040)" font-size="19.5" text-anchor="start" fill="#000" font-weight="bold" >c</text>
<text x="370.40" y="267.00" font-size="19.5" text-anchor="start" fill="#000" font-weight="bold" >d</text>
</svg>
</body></html>
